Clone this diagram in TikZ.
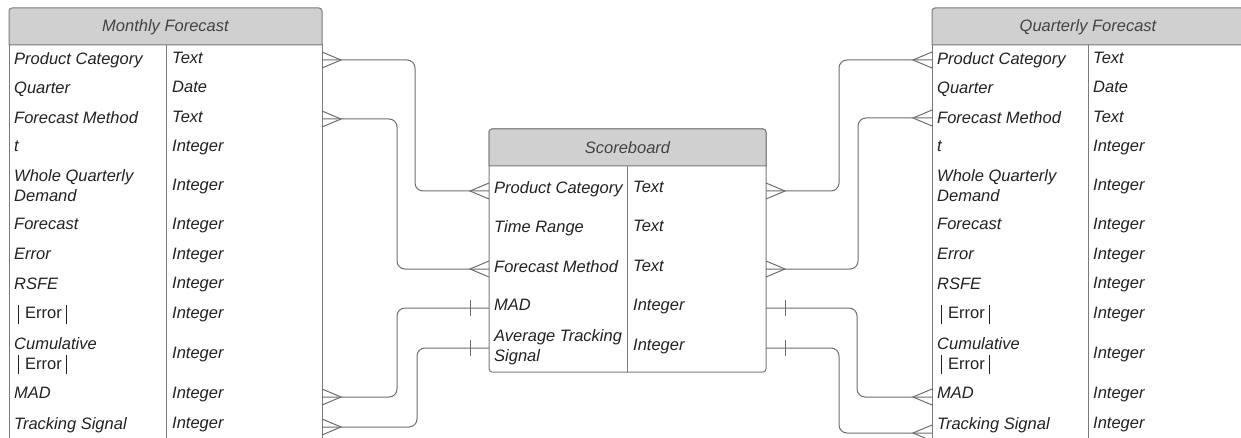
\documentclass[tikz,border=0pt]{standalone}
\usepackage{fontspec}
\setmainfont{Liberation Sans}
\definecolor{hdr}{HTML}{D0D0D0}
\definecolor{edge}{HTML}{7A7A7A}
\definecolor{wire}{HTML}{6E6E6E}
\definecolor{ink}{HTML}{222222}
% absolute-value bars around an upright word
\newcommand{\absbar}{\smash{\rule[-5pt]{1pt}{19pt}}}
\newcommand{\abserr}{{\upshape\hspace{4pt}\absbar\hspace{6pt}Error\hspace{4pt}\absbar}}
\begin{document}
\begin{tikzpicture}[x=1pt,y=-1pt,
  conn/.style={draw=wire, line width=1pt},
  field/.style={anchor=west, inner sep=0pt, text=ink, align=left,
    font=\fontsize{16.5}{19.5}\selectfont\itshape,
    execute at begin node={\vphantom{Hg}}, execute at end node={\vphantom{Hg}}},
  title/.style={inner sep=0pt, text=ink!85,
    font=\fontsize{16.5}{19.5}\selectfont\itshape},
  header/.style={draw=edge, fill=hdr, line width=1pt},
  body/.style={draw=edge, fill=white, line width=1pt},
  rule/.style={draw=edge, line width=1pt},
  pics/many/.style={code={\draw[conn] (0,-8) -- (19,0) -- (0,8);}},
  pics/one/.style={code={\draw[conn] (19,-8) -- (19,8);}},
]
\clip (0,0) rectangle (1241,438);
\fill[white] (0,0) rectangle (1241,438);

% ---------- Monthly Forecast ----------
\draw[body] (9,45) rectangle (322,450);
\draw[rule] (166,45) -- (166,450);
\draw[header] (9,45) [rounded corners=3pt] -- (9,8) -- (322,8) [sharp corners] -- (322,45) -- cycle;
\node[title] (mf) at (165.5,27) {Monthly Forecast};

% ---------- Quarterly Forecast ----------
\draw[body] (932,45) rectangle (1244,450);
\draw[rule] (1088,45) -- (1088,450);
\draw[header] (932,45) [rounded corners=3pt] -- (932,8) -- (1244,8) [sharp corners] -- (1244,45) -- cycle;
\node[title] (qf) at (1088,27) {Quarterly Forecast};

% rows shared by both forecast tables
\foreach \n/\f/\t/\y in {
  pc/{Product Category}/Text/60,
  qu/{Quarter}/Date/89,
  fm/{Forecast Method}/Text/119,
  tt/{t}/Integer/148,
  wd/{Whole Quarterly\\Demand}/Integer/187,
  fc/{Forecast}/Integer/226,
  er/{Error}/Integer/256,
  rs/{RSFE}/Integer/285,
  ae/{\abserr}/Integer/315,
  ce/{Cumulative\\\abserr}/Integer/355,
  ma/{MAD}/Integer/395,
  ts/{Tracking Signal}/Integer/425}{
  \node[field] (mf-\n-f) at (14,\y) {\f};
  \node[field] (mf-\n-t) at (172,\y) {\t};
  \node[field] (qf-\n-f) at (937,\y) {\f};
  \node[field] (qf-\n-t) at (1093,\y) {\t};
}

% ---------- Scoreboard ----------
\draw[body, rounded corners=3pt] (489,129) rectangle (766,372);
\draw[header] (489,166) [rounded corners=3pt] -- (489,129) -- (766,129) [sharp corners] -- (766,166) -- cycle;
\draw[rule] (627,166) -- (627,372);
\node[title] (sb) at (627.5,147.5) {Scoreboard};
\foreach \n/\f/\t/\y in {
  pc/{Product Category}/Text/189,
  tr/{Time Range}/Text/228,
  fm/{Forecast Method}/Text/268,
  ma/{MAD}/Integer/307,
  at/{Average Tracking\\Signal}/Integer/347}{
  \node[field] (sb-\n-f) at (494,\y) {\f};
  \node[field] (sb-\n-t) at (633,\y) {\t};
}

% ---------- connection points on table edges ----------
\coordinate (mf-pc) at (322,60);
\coordinate (mf-fm) at (322,119);
\coordinate (mf-ma) at (322,397);
\coordinate (mf-ts) at (322,427);
\coordinate (sb-pc-w) at (489,191);
\coordinate (sb-fm-w) at (489,269);
\coordinate (sb-ma-w) at (489,308);
\coordinate (sb-at-w) at (489,348);
\coordinate (sb-pc-e) at (766,191);
\coordinate (sb-fm-e) at (766,269);
\coordinate (sb-ma-e) at (766,308);
\coordinate (sb-at-e) at (766,348);
\coordinate (qf-pc) at (932,60);
\coordinate (qf-fm) at (932,118);
\coordinate (qf-ma) at (932,397);
\coordinate (qf-ts) at (932,433);

% ---------- relationships ----------
\begin{scope}[rounded corners=8pt]
\draw[conn] (mf-pc) -| ([xshift=-74pt]sb-pc-w) -- (sb-pc-w);
\draw[conn] (mf-fm) -| ([xshift=-92pt]sb-fm-w) -- (sb-fm-w);
\draw[conn] (sb-ma-w) -| ([xshift=75pt]mf-ma) -- (mf-ma);
\draw[conn] (sb-at-w) -| ([xshift=95pt]mf-ts) -- (mf-ts);
\draw[conn] (sb-pc-e) -| ([xshift=-93pt]qf-pc) -- (qf-pc);
\draw[conn] (sb-fm-e) -| ([xshift=-74pt]qf-fm) -- (qf-fm);
\draw[conn] (sb-ma-e) -| ([xshift=-75pt]qf-ma) -- (qf-ma);
\draw[conn] (sb-at-e) -| ([xshift=-93pt]qf-ts) -- (qf-ts);
\end{scope}

% crow's feet and single bars
\pic at (mf-pc) {many};
\pic at (mf-fm) {many};
\pic at (mf-ma) {many};
\pic at (mf-ts) {many};
\pic[xscale=-1] at (sb-pc-w) {many};
\pic[xscale=-1] at (sb-fm-w) {many};
\pic[xscale=-1] at (sb-ma-w) {one};
\pic[xscale=-1] at (sb-at-w) {one};
\pic at (sb-pc-e) {many};
\pic at (sb-fm-e) {many};
\pic at (sb-ma-e) {one};
\pic at (sb-at-e) {one};
\pic[xscale=-1] at (qf-pc) {many};
\pic[xscale=-1] at (qf-fm) {many};
\pic[xscale=-1] at (qf-ma) {many};
\pic[xscale=-1] at (qf-ts) {many};
\end{tikzpicture}
\end{document}
